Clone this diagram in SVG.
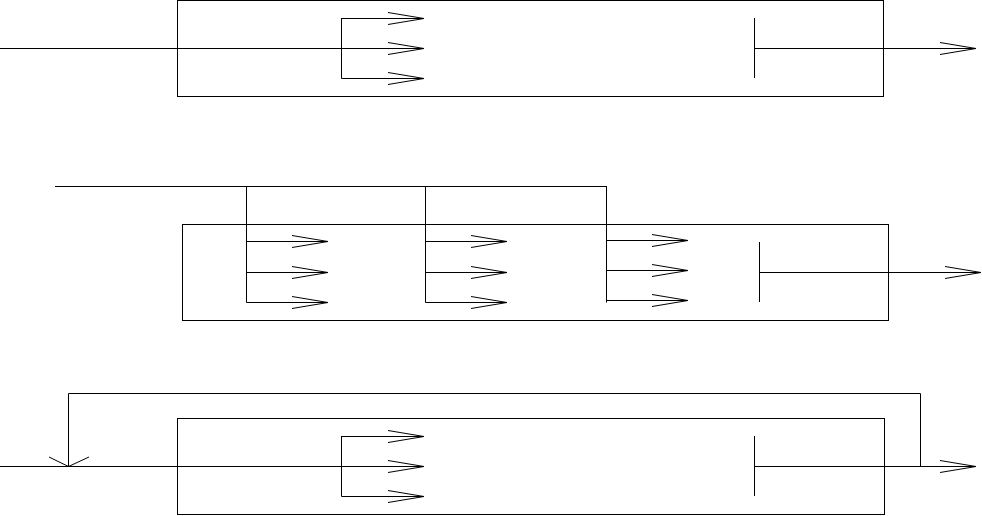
<svg xmlns="http://www.w3.org/2000/svg" width="982" height="516" viewBox="0 0 982 516">
<style>
.b{fill:none;stroke:#000;stroke-width:1}
.c{fill:none;stroke:#000;stroke-width:1}
</style>
<defs>
<marker id="a" markerWidth="40" markerHeight="16" refX="36" refY="8" orient="auto" markerUnits="userSpaceOnUse">
<path d="M0,2 L36,8 L0,14" fill="none" stroke="#000" stroke-width="1"/>
</marker>
</defs>
<rect width="982" height="516" fill="#fff"/>
<g id="box1"><rect class="b" x="177.5" y="0.5" width="706" height="96"/></g>
<g id="box2"><rect class="b" x="182.5" y="224.5" width="706" height="96"/></g>
<g id="box3"><rect class="b" x="177.5" y="418.5" width="707" height="96"/></g>
<g id="connectors" class="c">
<path d="M0,48.5 H341.5"/>
<path d="M341.5,18 V78.5"/>
<path d="M341.5,18.5 H424" marker-end="url(#a)"/>
<path d="M341.5,48.5 H424" marker-end="url(#a)"/>
<path d="M341.5,78.5 H424" marker-end="url(#a)"/>
<path d="M754.5,18 V78"/>
<path d="M754.5,48.5 H976" marker-end="url(#a)"/>

<path d="M55,186.5 H606.5"/>
<path d="M246.5,186 V302.5 M425.5,186 V302.5 M606.5,186 V302.5"/>
<path d="M246.5,241.5 H328" marker-end="url(#a)"/>
<path d="M246.5,272.5 H328" marker-end="url(#a)"/>
<path d="M246.5,302.5 H328" marker-end="url(#a)"/>
<path d="M425.5,241.5 H507" marker-end="url(#a)"/>
<path d="M425.5,272.5 H507" marker-end="url(#a)"/>
<path d="M425.5,302.5 H507" marker-end="url(#a)"/>
<path d="M606.5,240.5 H688" marker-end="url(#a)"/>
<path d="M606.5,270.5 H688" marker-end="url(#a)"/>
<path d="M606.5,300.5 H688" marker-end="url(#a)"/>
<path d="M759.5,242 V302"/>
<path d="M759.5,272.5 H981" marker-end="url(#a)"/>

<path d="M0,466.5 H341.5"/>
<path d="M341.5,436 V496.5"/>
<path d="M341.5,436.5 H424" marker-end="url(#a)"/>
<path d="M341.5,466.5 H424" marker-end="url(#a)"/>
<path d="M341.5,496.5 H424" marker-end="url(#a)"/>
<path d="M754.5,436 V496"/>
<path d="M754.5,466.5 H976" marker-end="url(#a)"/>
<path d="M920.5,466.5 V393.5 H68.5 V466"/>
<path d="M49,457 L68.5,466.5 L89,457"/>
</g>
</svg>
